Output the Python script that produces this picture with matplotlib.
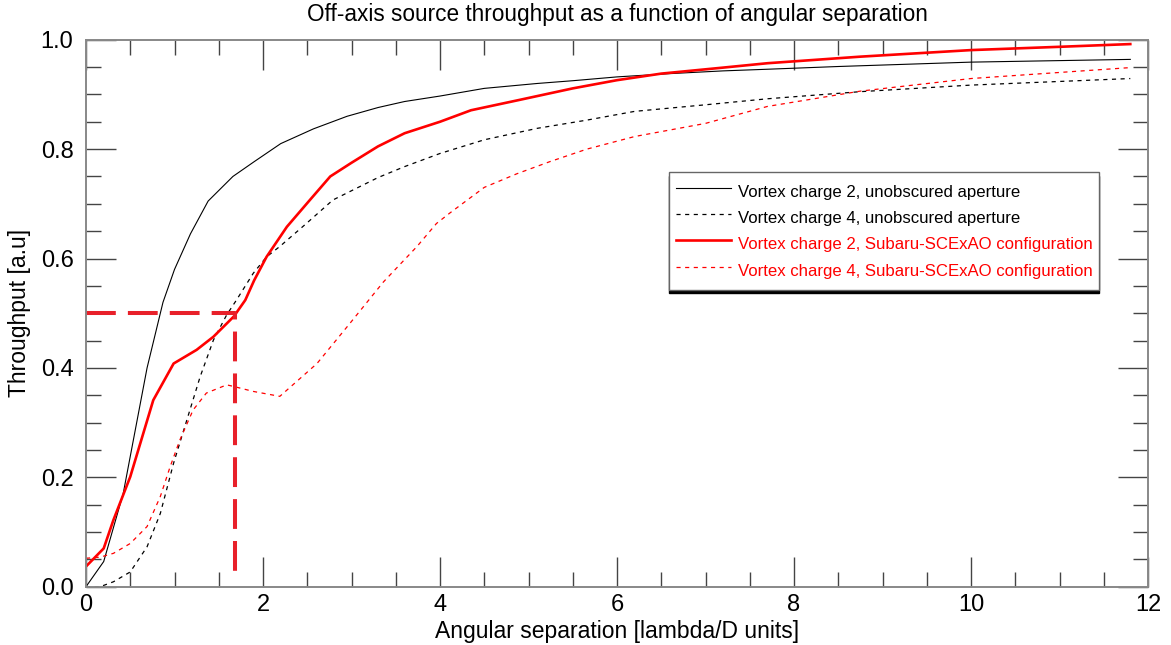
import numpy as np
import matplotlib.pyplot as plt
from matplotlib.ticker import MultipleLocator

# Vortex charge 2, unobscured aperture
x_c2_unobs = [0, 0.2, 0.42, 0.69, 0.87, 1.0, 1.18, 1.38, 1.66, 1.9, 2.2, 2.57, 2.95, 3.3, 3.6,
              4.0, 4.5, 5.1, 5.5, 6.0, 6.6, 7.2, 7.7, 8.5, 10.0, 11.8]
y_c2_unobs = [0, 0.046, 0.17, 0.40, 0.52, 0.58, 0.645, 0.705, 0.75, 0.777, 0.81, 0.837, 0.86, 0.876, 0.887,
              0.897, 0.911, 0.92, 0.925, 0.932, 0.938, 0.943, 0.946, 0.951, 0.959, 0.964]

# Vortex charge 4, unobscured aperture
x_c4_unobs = [0, 0.16, 0.31, 0.5, 0.69, 0.84, 0.99, 1.14, 1.29, 1.44, 1.59, 1.7, 1.89, 2.04, 2.19,
              2.49, 2.79, 3.3, 3.6, 4.0, 4.5, 5.1, 5.66, 6.2, 7.0, 7.7, 8.75, 10.0, 11.8]
y_c4_unobs = [0, 0.0, 0.009, 0.027, 0.073, 0.134, 0.226, 0.305, 0.384, 0.451, 0.497, 0.524, 0.573, 0.603, 0.622,
              0.664, 0.707, 0.748, 0.768, 0.792, 0.817, 0.838, 0.853, 0.869, 0.881, 0.892, 0.905, 0.917, 0.929]

# Vortex charge 2, Subaru-SCExAO configuration
x_c2_scexao = [0, 0.2, 0.31, 0.5, 0.76, 0.99, 1.25, 1.44, 1.67, 1.8, 1.9, 2.04, 2.27, 2.53, 2.76, 3.0,
               3.3, 3.6, 4.0, 4.35, 4.9, 5.5, 6.0, 6.5, 7.2, 7.7, 8.75, 10.0, 11.0, 11.8]
y_c2_scexao = [0.037, 0.07, 0.122, 0.201, 0.341, 0.408, 0.433, 0.457, 0.494, 0.524, 0.56, 0.603, 0.658, 0.707, 0.75, 0.775,
               0.805, 0.829, 0.85, 0.871, 0.89, 0.911, 0.926, 0.938, 0.949, 0.957, 0.969, 0.981, 0.987, 0.992]

# Vortex charge 4, Subaru-SCExAO configuration
x_c4_scexao = [0, 0.16, 0.31, 0.5, 0.69, 0.84, 0.95, 1.06, 1.21, 1.36, 1.59, 1.67, 1.89, 2.19, 2.61,
               2.98, 3.36, 3.74, 3.96, 4.11, 4.5, 4.87, 5.24, 5.66, 6.2, 7.0, 7.7, 8.75, 10.0, 11.8]
y_c4_scexao = [0.052, 0.054, 0.061, 0.079, 0.11, 0.165, 0.219, 0.268, 0.323, 0.354, 0.369, 0.366, 0.357, 0.348, 0.408,
               0.481, 0.557, 0.622, 0.664, 0.683, 0.73, 0.755, 0.777, 0.8, 0.823, 0.847, 0.878, 0.906, 0.929, 0.949]

# 50% throughput marker
x_ref = [0, 1.68, 1.68]
y_ref = [0.5, 0.5, 0.01]

labels = ['Vortex charge 2, unobscured aperture',
          'Vortex charge 4, unobscured aperture',
          'Vortex charge 2, Subaru-SCExAO configuration',
          'Vortex charge 4, Subaru-SCExAO configuration']

plt.rcParams['font.family'] = ['Liberation Sans', 'DejaVu Sans']

fig = plt.figure(figsize=(11.71, 6.45), dpi=100)
ax = fig.add_axes([86/1171, (645-586.7)/645, 1062/1171, 547/645])

ax.plot(x_c2_unobs, y_c2_unobs, color='black', lw=0.8, label=labels[0])
ax.plot(x_c4_unobs, y_c4_unobs, color='black', lw=0.9, dashes=(3.3, 3.6), label=labels[1])
ax.plot(x_c2_scexao, y_c2_scexao, color='red', lw=1.9, label=labels[2])
ax.plot(x_c4_scexao, y_c4_scexao, color='red', lw=0.9, dashes=(3.3, 3.6), label=labels[3])
ax.plot(x_ref, y_ref, color='#e8202a', lw=2.9, dashes=(7.4, 3.0))

ax.set_xlim(0, 12)
ax.set_ylim(0, 1.0)
ax.xaxis.set_major_locator(MultipleLocator(2))
ax.xaxis.set_minor_locator(MultipleLocator(0.5))
ax.yaxis.set_major_locator(MultipleLocator(0.2))
ax.yaxis.set_minor_locator(MultipleLocator(0.05))
ax.xaxis.set_major_formatter(plt.FuncFormatter(lambda v, p: '%d' % v))
ax.yaxis.set_major_formatter(plt.FuncFormatter(lambda v, p: '%.1f' % v))

ax.tick_params(which='both', direction='in', top=True, right=True, colors='#444444',
               labelcolor='black', labelsize=17, width=1.0)
ax.tick_params(which='major', length=21.6)
ax.tick_params(which='minor', length=10.8)
ax.tick_params(axis='x', which='major', pad=5)
ax.tick_params(axis='y', which='major', pad=9)
for s in ax.spines.values():
    s.set_color('#888888')
    s.set_linewidth(1.4)

ax.set_xlabel('Angular separation [lambda/D units]', fontsize=16.5, labelpad=3)
ax.set_ylabel('Throughput [a.u]', fontsize=16.5, labelpad=7)

fig.text(0.527, 1 - 15/645, 'Off-axis source throughput as a function of angular separation',
         ha='center', va='center', fontsize=16.3)

leg = ax.legend(loc='upper left', bbox_to_anchor=(0.549, 0.758), fontsize=12.1,
                handlelength=3.3, handleheight=1.95, handletextpad=0.4, labelspacing=0.05,
                borderpad=0.4, borderaxespad=0, fancybox=False, framealpha=1,
                edgecolor='#666666', labelcolor='linecolor',
                shadow={'color': 'black', 'alpha': 1, 'ox': 0, 'oy': -2.5})
leg.get_frame().set_linewidth(1.0)

fig.savefig('out.png', dpi=100)
